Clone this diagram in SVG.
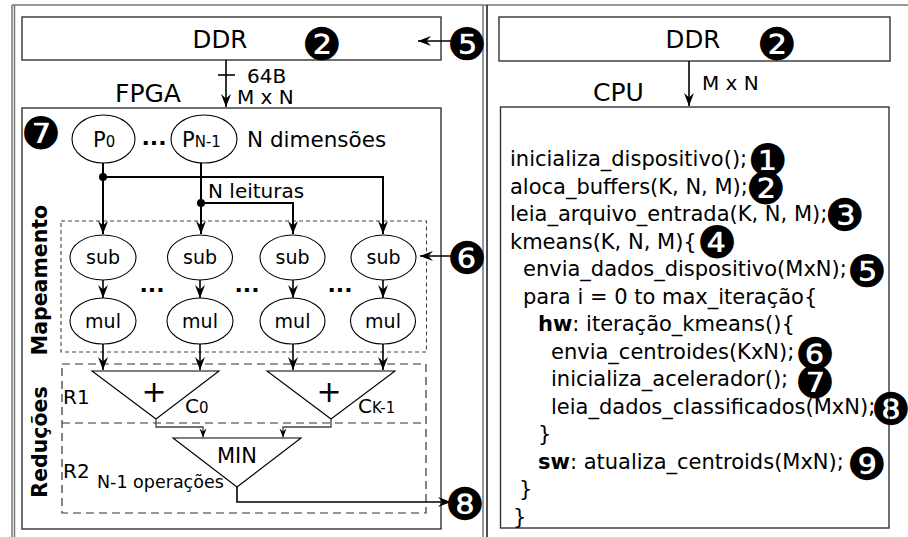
<svg xmlns="http://www.w3.org/2000/svg" width="908" height="537" viewBox="0 0 908 537">
  <style>
    text { font-family: "DejaVu Sans", "Liberation Sans", sans-serif; fill: #000; }
    .box { fill: #fff; stroke: #333; stroke-width: 1.4; }
    .frame { fill: none; stroke: #777; stroke-width: 1.5; }
    .op { fill: #fff; stroke: #000; stroke-width: 1.1; }
    .tri { fill: #fff; stroke: #000; stroke-width: 1.1; }
    .wire { fill: none; stroke: #000; stroke-width: 1.6; }
    .bus { fill: none; stroke: #000; stroke-width: 2; }
    .thin { fill: none; stroke: #444; stroke-width: 1.3; }
    .dashA { fill: none; stroke: #444; stroke-width: 1.1; stroke-dasharray: 4 3; }
    .dashB { fill: none; stroke: #333; stroke-width: 1.2; stroke-dasharray: 8 5; }
    .badge { font-size: 45px; text-anchor: middle; }
    .code { font-size: 21px; }
    .lbl { font-size: 20px; }
    .big { font-size: 25px; }
    .sub { font-size: 15px; }
    .dots { font-size: 22px; font-weight: bold; text-anchor: middle; }
    .side { font-size: 20.5px; font-weight: bold; text-anchor: middle; }
  </style>
  <defs>
    <marker id="arr" markerUnits="userSpaceOnUse" viewBox="-14 -6 15 12" refX="0" refY="0" markerWidth="15" markerHeight="12" orient="auto">
      <path d="M0,0 L-13,-5 L-8.5,0 L-13,5 Z" fill="#000"/>
    </marker>
    <marker id="arrS" markerUnits="userSpaceOnUse" viewBox="-10 -5 11 10" refX="0" refY="0" markerWidth="11" markerHeight="10" orient="auto">
      <path d="M0,0 L-9,-3.5 L-6,0 L-9,3.5 Z" fill="#000"/>
    </marker>
  </defs>

  <!-- outer frame and panel divider -->
  <g id="frame">
    <line class="frame" x1="12" y1="5" x2="908" y2="5"/>
    <line class="frame" x1="12" y1="5" x2="12" y2="537"/>
    <line class="frame" x1="14.5" y1="5" x2="14.5" y2="537" stroke-width="0.8"/>
    <line class="frame" x1="483" y1="5" x2="483" y2="537"/>
    <line x1="487" y1="5" x2="487" y2="537" stroke="#222" stroke-width="1.6"/>
  </g>

  <!-- ===== FPGA side ===== -->
  <g id="ddr-left">
    <rect class="box" x="22" y="17" width="419" height="43"/>
    <text x="220" y="48" font-size="24.5" text-anchor="middle">DDR</text>
    <text class="badge" x="322" y="60">❷</text>
  </g>

  <g id="fpga">
    <rect class="box" x="22" y="108" width="419" height="421"/>
    <text class="big" x="115" y="102">FPGA</text>
    <text class="badge" x="41" y="149">❼</text>
    <text class="side" transform="translate(47,280) rotate(-90)">Mapeamento</text>
    <text class="side" transform="translate(47,442) rotate(-90)">Reduções</text>
  </g>

  <g id="p0">
    <ellipse class="op" cx="103.5" cy="139" rx="31.5" ry="24"/>
    <text x="93" y="147" font-size="21">P<tspan class="sub">0</tspan></text>
  </g>
  <text class="dots" x="154" y="145">...</text>
  <g id="pn1">
    <ellipse class="op" cx="204" cy="139" rx="33" ry="24"/>
    <text x="182" y="147" font-size="21">P<tspan class="sub">N-1</tspan></text>
  </g>
  <text x="247" y="147" font-size="21.5">N dimensões</text>
  <text x="208" y="198" class="lbl">N leituras</text>

  <g id="mapeamento">
    <rect class="dashA" x="61" y="221" width="365.5" height="131"/>
  </g>
  <g id="sub1"><ellipse class="op" cx="103" cy="257.5" rx="33" ry="22.5"/><text x="103" y="264" font-size="19" text-anchor="middle">sub</text></g>
  <g id="sub2"><ellipse class="op" cx="200" cy="257.5" rx="32.5" ry="22.5"/><text x="200" y="264" font-size="19" text-anchor="middle">sub</text></g>
  <g id="sub3"><ellipse class="op" cx="292.5" cy="257.5" rx="32.5" ry="22.5"/><text x="292.5" y="264" font-size="19" text-anchor="middle">sub</text></g>
  <g id="sub4"><ellipse class="op" cx="383.5" cy="257.5" rx="32.5" ry="22.5"/><text x="383.5" y="264" font-size="19" text-anchor="middle">sub</text></g>
  <g id="mul1"><ellipse class="op" cx="103" cy="321" rx="33" ry="23"/><text x="103" y="328" font-size="19" text-anchor="middle">mul</text></g>
  <g id="mul2"><ellipse class="op" cx="200" cy="321" rx="33" ry="23"/><text x="200" y="328" font-size="19" text-anchor="middle">mul</text></g>
  <g id="mul3"><ellipse class="op" cx="292.5" cy="321" rx="32.5" ry="23"/><text x="292.5" y="328" font-size="19" text-anchor="middle">mul</text></g>
  <g id="mul4"><ellipse class="op" cx="383" cy="321" rx="32.5" ry="23"/><text x="383" y="328" font-size="19" text-anchor="middle">mul</text></g>
  <text class="dots" x="152" y="292">...</text>
  <text class="dots" x="247" y="292">...</text>
  <text class="dots" x="340" y="292">...</text>

  <g id="reducoes">
    <rect class="dashB" x="62" y="364" width="364" height="149"/>
    <line class="dashB" x1="62" y1="423" x2="426" y2="423"/>
    <text class="lbl" x="63" y="404">R1</text>
    <text class="lbl" x="63" y="478">R2</text>
  </g>
  <g id="soma-c0">
    <polygon class="tri" points="92,371 219,371 156,419"/>
    <text x="154" y="402" font-size="30" text-anchor="middle">+</text>
    <text x="185" y="413" font-size="20">C<tspan class="sub">0</tspan></text>
  </g>
  <g id="soma-ck1">
    <polygon class="tri" points="267,371 395,371 331,419"/>
    <text x="329" y="402" font-size="30" text-anchor="middle">+</text>
    <text x="358" y="413" font-size="20">C<tspan class="sub">K-1</tspan></text>
  </g>
  <g id="min">
    <polygon class="tri" points="173,438 301,438 237,487"/>
    <text x="237" y="463" font-size="21" text-anchor="middle">MIN</text>
    <text x="97" y="488" font-size="17.5">N-1 operações</text>
  </g>

  <g id="badges-left">
    <text class="badge" x="467" y="60">❺</text>
    <text class="badge" x="467" y="274">❻</text>
    <text class="badge" x="465" y="520">❽</text>
  </g>

  <!-- ===== CPU side ===== -->
  <g id="ddr-right">
    <rect class="box" x="499" y="17" width="391" height="44"/>
    <text x="693" y="48" font-size="24.5" text-anchor="middle">DDR</text>
    <text class="badge" x="777" y="60">❷</text>
  </g>

  <g id="cpu">
    <rect class="box" x="500.5" y="107" width="388.5" height="421"/>
    <text class="big" x="593" y="101">CPU</text>
    <text class="code" x="510" y="166">inicializa_dispositivo();</text>
    <text class="code" x="510" y="193.5">aloca_buffers(K, N, M);</text>
    <text class="code" x="510" y="221">leia_arquivo_entrada(K, N, M);</text>
    <text class="code" x="510" y="248.5">kmeans(K, N, M){</text>
    <text class="code" x="523" y="276">envia_dados_dispositivo(MxN);</text>
    <text class="code" x="523" y="303.5">para i = 0 to max_iteração{</text>
    <text class="code" x="538" y="331"><tspan font-weight="bold">hw</tspan>: iteração_kmeans(){</text>
    <text class="code" x="551" y="358.5">envia_centroides(KxN);</text>
    <text class="code" x="551" y="386">inicializa_acelerador();</text>
    <text class="code" x="551" y="413.5">leia_dados_classificados(MxN);</text>
    <text class="code" x="538" y="441">}</text>
    <text class="code" x="538" y="468.5"><tspan font-weight="bold">sw</tspan>: atualiza_centroids(MxN);</text>
    <text class="code" x="519" y="496">}</text>
    <text class="code" x="513" y="523.5">}</text>
    <text class="badge" x="768" y="176">❶</text>
    <text class="badge" x="766" y="204">❷</text>
    <text class="badge" x="845" y="231">❸</text>
    <text class="badge" x="717" y="258">❹</text>
    <text class="badge" x="867" y="287">❺</text>
    <text class="badge" x="815" y="370">❻</text>
    <text class="badge" x="815" y="398">❼</text>
    <text class="badge" x="891" y="425">❽</text>
    <text class="badge" x="867" y="480">❾</text>
  </g>

  <!-- connectors -->
  <g id="connectors">
    <path class="wire" d="M226,60 V107" marker-end="url(#arr)"/>
    <path class="wire" d="M218,75 H235"/>
    <text class="lbl" x="247" y="83">64B</text>
    <text class="lbl" x="237" y="104" font-size="21">M x N</text>
    <path class="wire" d="M452,41 H418" marker-end="url(#arr)"/>
    <path class="wire" d="M454,256 H420" marker-end="url(#arr)"/>

    <path class="bus" d="M103,163 V234" marker-end="url(#arr)"/>
    <path class="bus" d="M103,177 H383 V234" marker-end="url(#arr)"/>
    <circle cx="103" cy="177" r="4" fill="#000"/>
    <path class="bus" d="M201,163 V234" marker-end="url(#arr)"/>
    <path class="bus" d="M201,203 H293 V234" marker-end="url(#arr)"/>
    <circle cx="201" cy="203" r="4" fill="#000"/>

    <path class="wire" d="M103,280 V298" marker-end="url(#arr)"/>
    <path class="wire" d="M200,280 V298" marker-end="url(#arr)"/>
    <path class="wire" d="M293,280 V298" marker-end="url(#arr)"/>
    <path class="wire" d="M383,280 V298" marker-end="url(#arr)"/>

    <path class="wire" d="M103,344 V370" marker-end="url(#arr)"/>
    <path class="wire" d="M200,344 V370" marker-end="url(#arr)"/>
    <path class="wire" d="M293,344 V370" marker-end="url(#arr)"/>
    <path class="wire" d="M383,344 V370" marker-end="url(#arr)"/>

    <path class="thin" d="M156,419 V427 H203 V437.5" marker-end="url(#arrS)"/>
    <path class="thin" d="M331,419 V427 H283 V437.5" marker-end="url(#arrS)"/>
    <path class="wire" d="M237,487 V502 H451" marker-end="url(#arr)"/>

    <path class="wire" d="M689,61 V106" marker-end="url(#arr)"/>
    <text class="lbl" x="702" y="90" font-size="21">M x N</text>
  </g>
</svg>
